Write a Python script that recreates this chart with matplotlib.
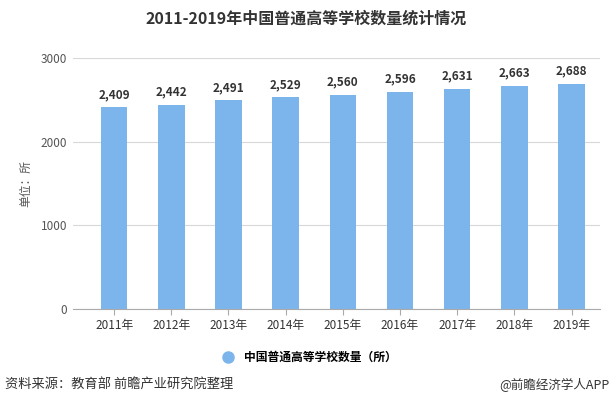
import matplotlib.pyplot as plt
from matplotlib.lines import Line2D

plt.rcParams['font.family'] = ['Noto Sans CJK SC', 'DejaVu Sans']

years = ["2011年", "2012年", "2013年", "2014年", "2015年", "2016年", "2017年", "2018年", "2019年"]
counts = [2409, 2442, 2491, 2529, 2560, 2596, 2631, 2663, 2688]
yticks = [0, 1000, 2000, 3000]

bar_color = "#7cb5ec"
grey = "#555555"

fig = plt.figure(figsize=(6.13, 4.13), dpi=100)
ax = fig.add_axes([0.119, 0.252, 0.860, 0.608])

x = list(range(len(years)))
ax.bar(x, counts, width=0.465, color=bar_color, zorder=2)
for xi, v in zip(x, counts):
    ax.text(xi, v + 75, f"{v:,}", ha="center", va="bottom", fontsize=8.5,
            fontweight="bold", color="#333333")

ax.set_xlim(-0.72, len(years) - 0.5)
ax.set_ylim(0, 3000)
ax.set_yticks(yticks)
ax.set_yticklabels([str(t) for t in yticks], fontsize=8.5, color=grey)
ax.set_xticks(x)
ax.set_xticklabels(years, fontsize=8.5, color="#333333")
ax.grid(axis="y", color="#d8d8d8", linewidth=0.8, zorder=0)
for side in ["top", "right", "left"]:
    ax.spines[side].set_visible(False)
ax.spines["bottom"].set_color("#aaaaaa")
ax.tick_params(axis="y", length=0, pad=4)
ax.tick_params(axis="x", length=4, color="#aaaaaa", pad=3)
ax.set_ylabel("单位：所", fontsize=8.5, color=grey, labelpad=6)

fig.text(0.5, 0.955, "2011-2019年中国普通高等学校数量统计情况", ha="center", va="center",
         fontsize=11.5, fontweight="bold", color="#333333")

handle = Line2D([], [], marker="o", linestyle="none", markersize=8,
                markerfacecolor=bar_color, markeredgecolor=bar_color)
fig.legend([handle], ["中国普通高等学校数量（所）"], loc="center",
           bbox_to_anchor=(0.5, 0.135), frameon=False,
           handletextpad=0.3, prop={'weight': 'bold', 'size': 8.5})

fig.text(0.008, 0.068, "资料来源：教育部 前瞻产业研究院整理", ha="left", va="center",
         fontsize=9.5, color="#333333")
fig.text(0.995, 0.068, "@前瞻经济学人APP", ha="right", va="center",
         fontsize=9, color="#333333")

fig.savefig("out.png", dpi=100)
